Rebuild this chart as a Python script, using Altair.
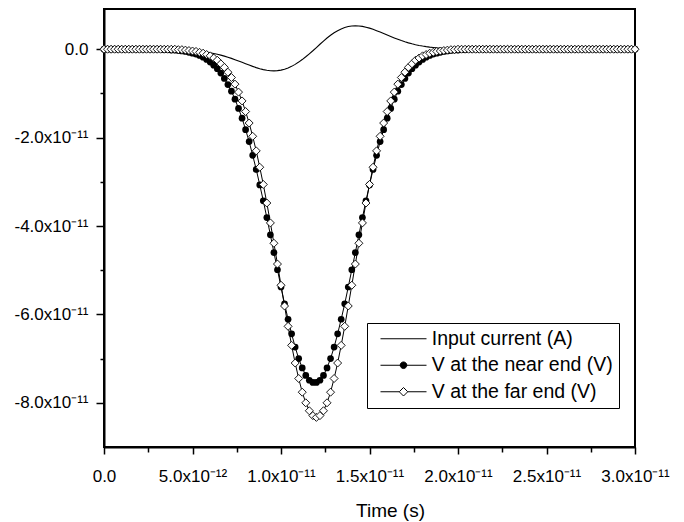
import altair as alt
import pandas as pd

# ---------------- data (time in ps, values in units of 1e-12) ----------------
time_ps = [round(0.2 * i, 1) for i in range(151)]

input_current = [
    0, 0, 0, 0, 0, 0, 0, 0, 0, 0,
    0, 0, 0, 0, 0, 0, 0, 0, 0, -0.06,
    -0.08, -0.10, -0.13, -0.17, -0.22, -0.28, -0.35, -0.43, -0.53, -0.65,
    -0.79, -0.95, -1.13, -1.33, -1.56, -1.81, -2.07, -2.36, -2.66, -2.97,
    -3.28, -3.58, -3.88, -4.16, -4.40, -4.61, -4.76, -4.86, -4.90, -4.85,
    -4.73, -4.53, -4.24, -3.88, -3.43, -2.91, -2.34, -1.71, -1.04, -0.35,
    0.38, 1.13, 1.85, 2.53, 3.16, 3.72, 4.20, 4.60, 4.91, 5.13,
    5.26, 5.30, 5.27, 5.16, 4.99, 4.77, 4.50, 4.20, 3.88, 3.55,
    3.21, 2.88, 2.56, 2.25, 1.96, 1.69, 1.44, 1.22, 1.03, 0.86,
    0.71, 0.58, 0.47, 0.38, 0.30, 0.24, 0.19, 0.15, 0.11, 0.09,
    0.07, 0, 0, 0, 0, 0, 0, 0, 0, 0,
    0, 0, 0, 0, 0, 0, 0, 0, 0, 0,
    0, 0, 0, 0, 0, 0, 0, 0, 0, 0,
    0, 0, 0, 0, 0, 0, 0, 0, 0, 0,
    0, 0, 0, 0, 0, 0, 0, 0, 0, 0,
    0,
]

near_end = [
    0, 0, 0, 0, 0, 0, 0, 0, 0, 0,
    0, 0, 0, 0, 0, 0, 0, -0.1, -0.1, -0.2,
    -0.2, -0.3, -0.4, -0.5, -0.7, -0.9, -1.1, -1.4, -1.8, -2.3,
    -2.9, -3.6, -4.4, -5.4, -6.6, -8.0, -9.5, -11.3, -13.4, -15.6,
    -18.2, -20.9, -24.0, -27.2, -30.7, -34.3, -38.1, -42.0, -46.0, -49.9,
    -53.8, -57.6, -61.1, -64.4, -67.4, -70.0, -72.1, -73.8, -74.9, -75.4,
    -75.4, -74.9, -73.8, -72.1, -70.0, -67.4, -64.4, -61.1, -57.6, -53.8,
    -49.9, -46.0, -42.0, -38.1, -34.3, -30.7, -27.2, -24.0, -20.9, -18.2,
    -15.6, -13.4, -11.3, -9.5, -8.0, -6.6, -5.4, -4.4, -3.6, -2.9,
    -2.3, -1.8, -1.4, -1.1, -0.9, -0.7, -0.5, -0.4, -0.3, -0.2,
    -0.2, -0.1, -0.1, 0, 0, 0, 0, 0, 0, 0,
    0, 0, 0, 0, 0, 0, 0, 0, 0, 0,
    0, 0, 0, 0, 0, 0, 0, 0, 0, 0,
    0, 0, 0, 0, 0, 0, 0, 0, 0, 0,
    0, 0, 0, 0, 0, 0, 0, 0, 0, 0,
    0,
]

far_end = [
    0, 0, 0, 0, 0, 0, 0, 0, 0, 0,
    0, 0, 0, 0, 0, 0, 0, 0, 0, 0,
    0, -0.1, -0.1, -0.2, -0.3, -0.4, -0.5, -0.7, -0.9, -1.2,
    -1.5, -2.0, -2.5, -3.3, -4.1, -5.2, -6.4, -7.9, -9.7, -11.7,
    -14.1, -16.7, -19.7, -23.0, -26.7, -30.6, -34.8, -39.3, -43.9, -48.6,
    -53.4, -58.1, -62.7, -67.0, -71.0, -74.5, -77.6, -80.0, -81.8, -82.9,
    -83.3, -82.9, -81.8, -80.0, -77.6, -74.5, -71.0, -67.0, -62.7, -58.1,
    -53.4, -48.6, -43.9, -39.3, -34.8, -30.6, -26.7, -23.0, -19.7, -16.7,
    -14.1, -11.7, -9.7, -7.9, -6.4, -5.2, -4.1, -3.3, -2.5, -2.0,
    -1.5, -1.2, -0.9, -0.7, -0.5, -0.4, -0.3, -0.2, -0.1, -0.1,
    0, 0, 0, 0, 0, 0, 0, 0, 0, 0,
    0, 0, 0, 0, 0, 0, 0, 0, 0, 0,
    0, 0, 0, 0, 0, 0, 0, 0, 0, 0,
    0, 0, 0, 0, 0, 0, 0, 0, 0, 0,
    0, 0, 0, 0, 0, 0, 0, 0, 0, 0,
    0,
]

series_names = ["Input current (A)", "V at the near end (V)", "V at the far end (V)"]

x_major = [0, 5, 10, 15, 20, 25, 30]
x_labels = ["0.0", "5.0x10⁻¹²", "1.0x10⁻¹¹", "1.5x10⁻¹¹", "2.0x10⁻¹¹", "2.5x10⁻¹¹", "3.0x10⁻¹¹"]
x_minor = [2.5, 7.5, 12.5, 17.5, 22.5, 27.5]
y_major = [0, -20, -40, -60, -80]
y_labels = ["0.0", "-2.0x10⁻¹¹", "-4.0x10⁻¹¹", "-6.0x10⁻¹¹", "-8.0x10⁻¹¹"]
y_minor = [-10, -30, -50, -70]

assert len(input_current) == len(near_end) == len(far_end) == len(time_ps)

rows = []
for name, vals in zip(series_names, [input_current, near_end, far_end]):
    for t, v in zip(time_ps, vals):
        rows.append({"t": t, "v": v, "series": name})
df = pd.DataFrame(rows)

FONT = "Liberation Sans"


def label_expr(values, labels):
    parts = [f"abs(datum.value - ({v})) < 0.01 ? '{l}'" for v, l in zip(values, labels)]
    return " : ".join(parts) + " : ''"


x_axis = alt.Axis(
    values=sorted(x_major + x_minor),
    labelExpr=label_expr(x_major, x_labels),
    tickSize={"condition": {"test": "abs(datum.value % 5) < 0.01", "value": 7}, "value": 5},
    labelPadding=14,
    labelFlush=False,
    labelOverlap=False,
    labelFont=FONT,
    labelFontSize=17,
    labelColor="black",
    titleFont=FONT,
    titleFontSize=19,
    titleFontWeight="normal",
    titleColor="black",
    titleX=286,
    titleY=69,
    titleAlign="center",
    titleBaseline="alphabetic",
    domainColor="black",
    domainWidth=2,
    tickColor="black",
    tickWidth=1.5,
    grid=False,
)

y_axis = alt.Axis(
    values=sorted(y_major + y_minor),
    labelExpr=label_expr(y_major, y_labels),
    tickSize={"condition": {"test": "abs(datum.value % 20) < 0.01", "value": 8}, "value": 4},
    labelPadding=8,
    labelOverlap=False,
    labelFlush=False,
    labelFont=FONT,
    labelFontSize=17,
    labelColor="black",
    domainColor="black",
    domainWidth=2,
    tickColor="black",
    tickWidth=1.5,
    grid=False,
)

x_enc = alt.X("t:Q", scale=alt.Scale(domain=[0, 30], nice=False, zero=False), axis=x_axis, title="Time (s)")
y_enc = alt.Y("v:Q", scale=alt.Scale(domain=[-90, 9.1], nice=False, zero=False), axis=y_axis, title=None)

base = alt.Chart(df)

current_line = base.transform_filter(alt.datum.series == series_names[0]).mark_line(
    color="black", strokeWidth=1.1
).encode(x=x_enc, y=y_enc)

near_line = base.transform_filter(alt.datum.series == series_names[1]).mark_line(
    color="black", strokeWidth=1
).encode(x=x_enc, y=y_enc)

near_pts = base.transform_filter(alt.datum.series == series_names[1]).mark_point(
    shape="circle", filled=True, fill="black", strokeWidth=0, size=45, opacity=1
).encode(x=x_enc, y=y_enc)

far_line = base.transform_filter(alt.datum.series == series_names[2]).mark_line(
    color="black", strokeWidth=1
).encode(x=x_enc, y=y_enc)

far_pts = base.transform_filter(alt.datum.series == series_names[2]).mark_point(
    shape="diamond", filled=True, fill="white", stroke="black", strokeWidth=0.9, size=64, opacity=1
).encode(x=x_enc, y=y_enc)

legend_paths = [
    "M-4.6,0H4.6",
    "M-4.6,0H4.6M0.66,0A0.66,0.66,0,1,1,-0.66,0A0.66,0.66,0,1,1,0.66,0Z",
    "M-4.6,0H-0.85M0.85,0H4.6M0,-0.85L0.85,0L0,0.85L-0.85,0Z",
]
legend_fills = ["black", "black", "white"]
legend_strokes = ["black", "black", "black"]


def make_legend():
    return alt.Legend(
        title=None,
        orient="none",
        legendX=263,
        legendY=314,
        padding=6,
        strokeColor="black",
        fillColor="white",
        labelFont=FONT,
        labelFontSize=19.5,
        labelColor="black",
        labelLimit=400,
        symbolSize=100,
        symbolStrokeColor="black",
        symbolStrokeWidth=1,
        symbolOpacity=1,
        symbolOffset=20.75,
        labelOffset=18.5,
        rowPadding=5.5,
    )


legend_layer = base.transform_filter("false").mark_point(
    filled=True, stroke="black", strokeWidth=1, opacity=1
).encode(
    x=x_enc,
    y=y_enc,
    shape=alt.Shape("series:N", scale=alt.Scale(domain=series_names, range=legend_paths), legend=make_legend()),
    fill=alt.Fill("series:N", scale=alt.Scale(domain=series_names, range=legend_fills), legend=make_legend()),
    stroke=alt.Stroke("series:N", scale=alt.Scale(domain=series_names, range=legend_strokes), legend=make_legend()),
)

chart = alt.layer(
    current_line, near_line, near_pts, far_line, far_pts, legend_layer
).properties(
    width=531,
    height=438,
    autosize=alt.AutoSizeParams(type="none"),
    padding={"left": 96, "top": 1, "right": 41, "bottom": 80},
    background="white",
).configure_view(
    stroke="black", strokeWidth=2
)

chart.save("out.html", embed_options={"renderer": "svg", "actions": False})
